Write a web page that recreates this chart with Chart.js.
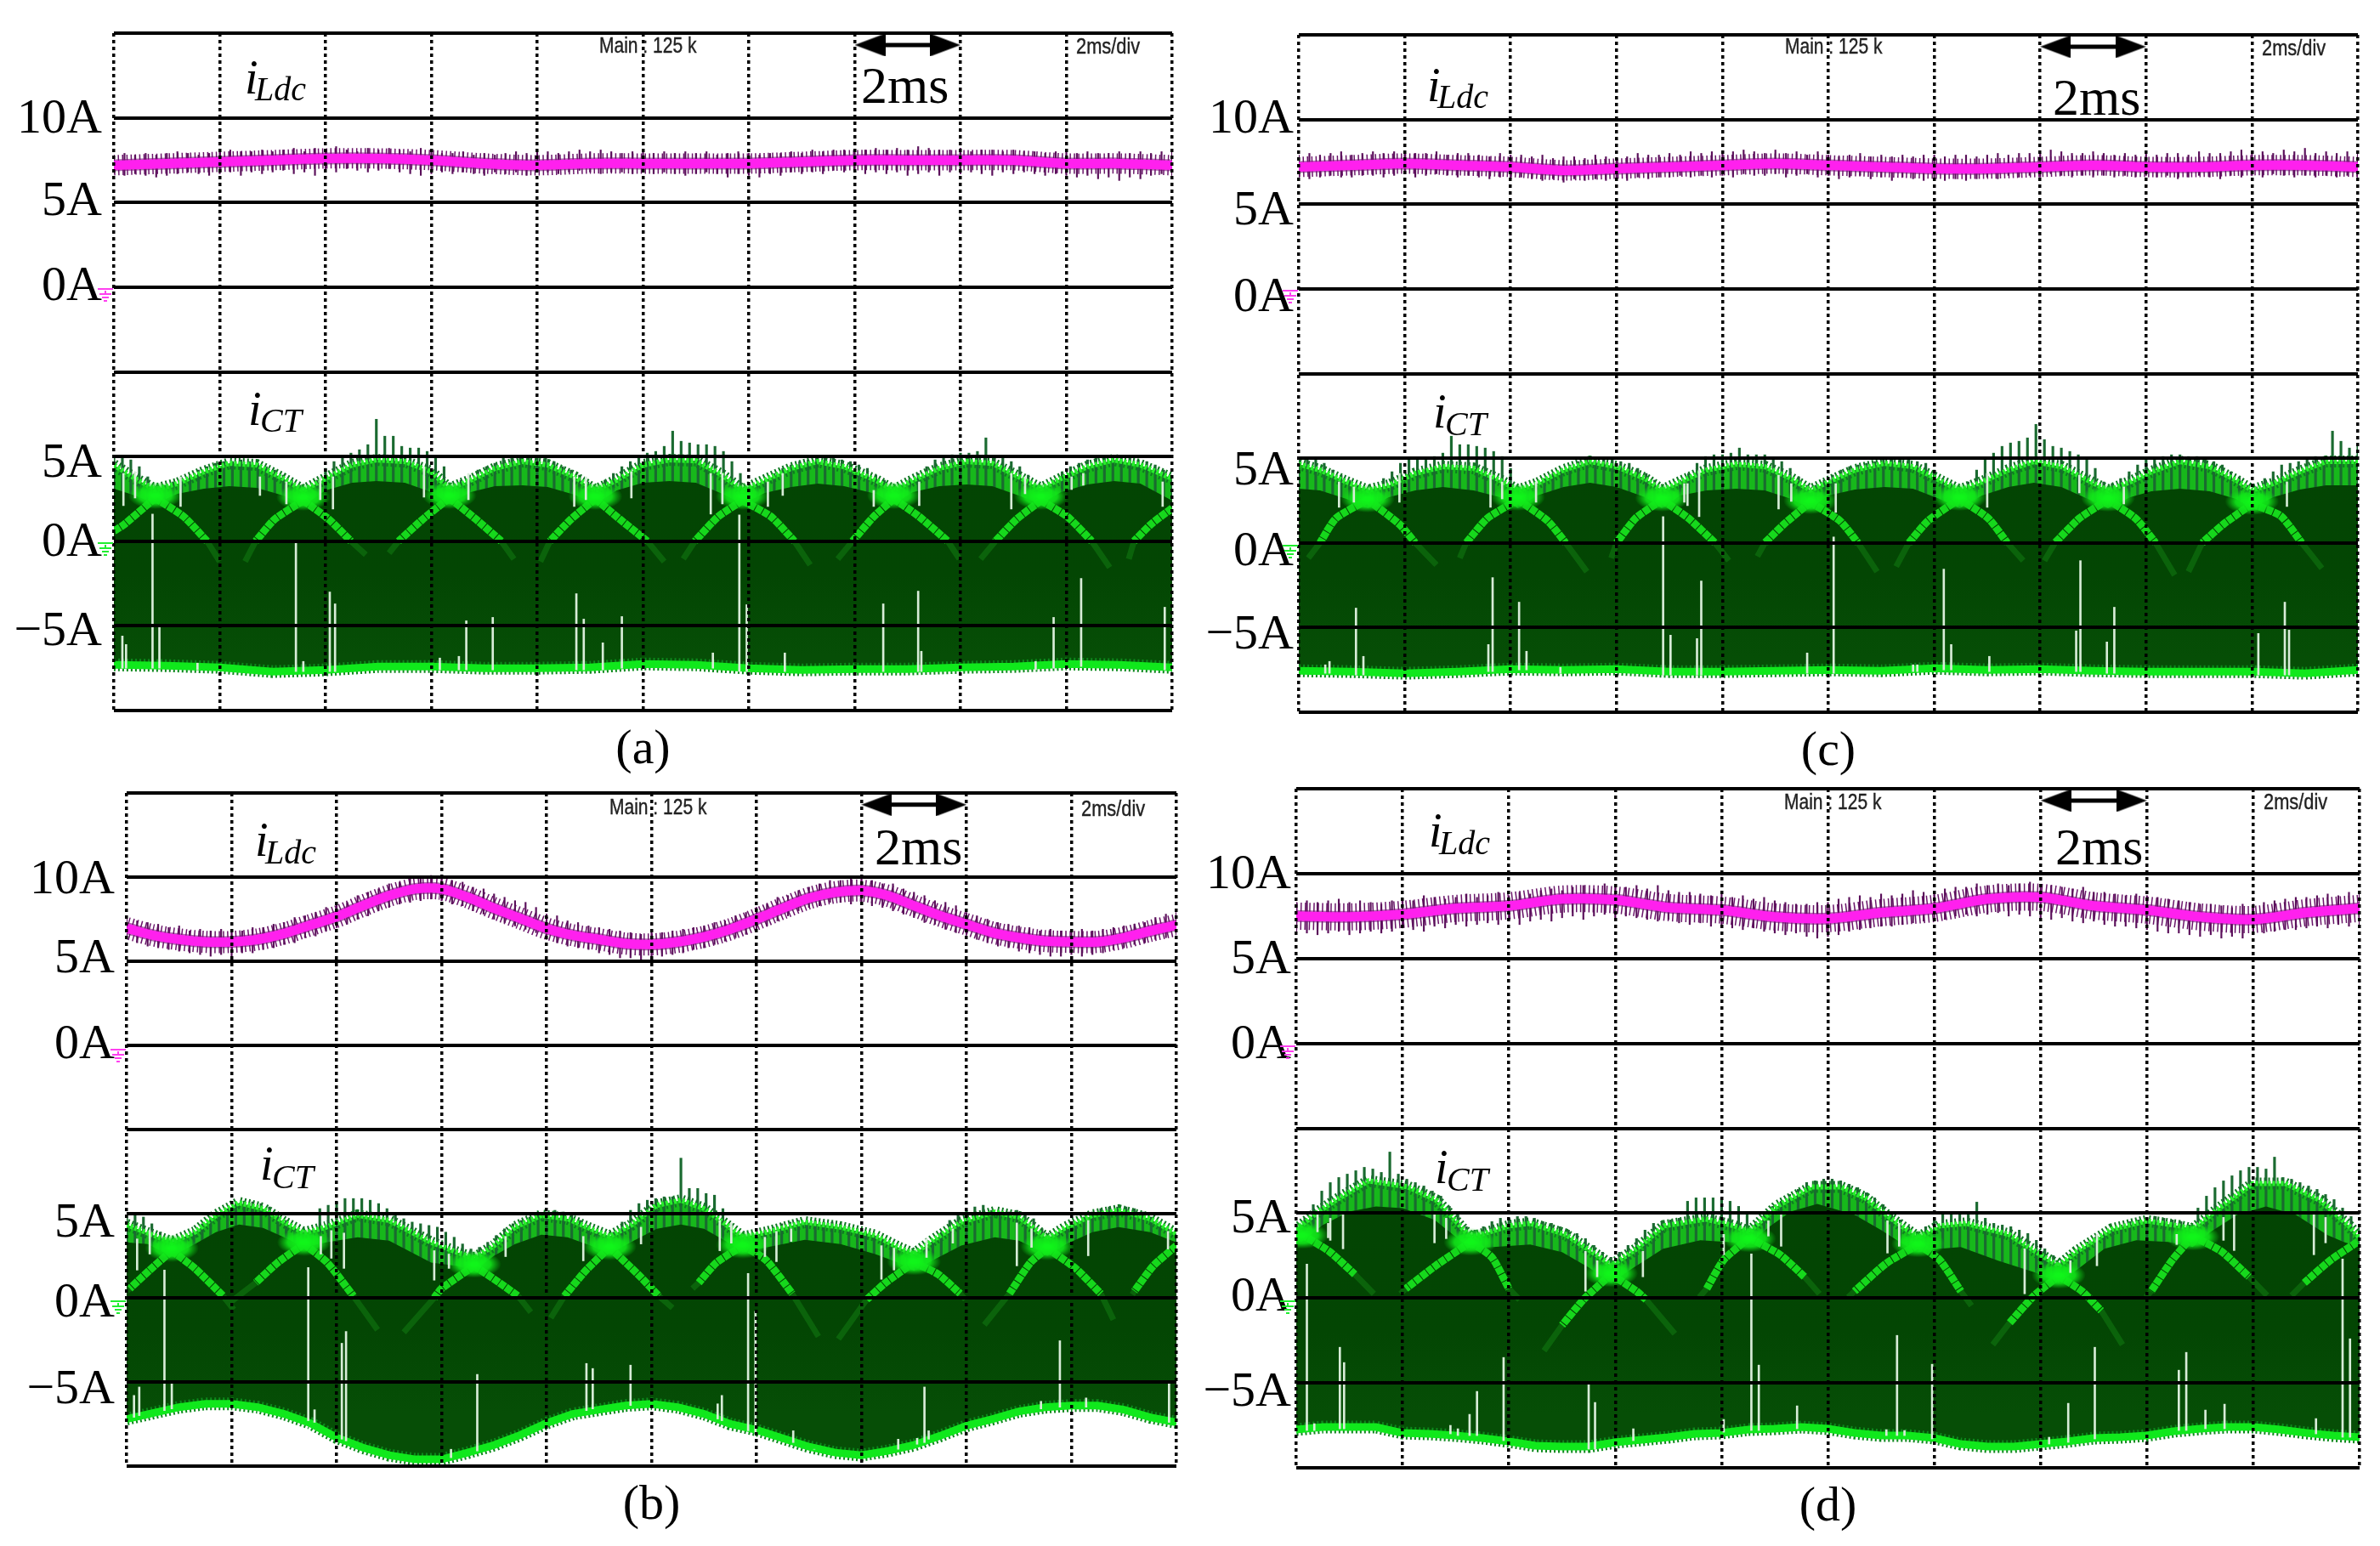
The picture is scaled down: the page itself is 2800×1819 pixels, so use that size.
<!DOCTYPE html>
<html>
<head>
<meta charset="utf-8">
<title>Inductor and capacitor current waveforms</title>
<style>
  html, body { margin: 0; padding: 0; background: #fff; }
  #page { position: relative; width: 2800px; height: 1819px; overflow: hidden; background: #fff; }
  .box { position: absolute; }
  .txt { position: absolute; white-space: pre; line-height: 1; color: #000; }
  .bar { position: absolute; }
</style>
<script src="https://cdn.jsdelivr.net/npm/chart.js@4/dist/chart.umd.js"></script>
</head>
<body>
<div id="page"></div>
<script>
// axis labels, top line to bottom line of each scope picture
var tickLabels = ['', '10A', '5A', '0A', '', '5A', '0A', '\u22125A', ''];

// iLdc centre trace, evenly spaced over the 10 divisions
var aLdc = [7.2,7.3,7.4,7.5,7.6,7.6,7.5,7.3,7.2,7.3,7.3,7.3,7.3,7.4,7.5,7.5,7.5,7.5,7.3,7.3,7.2];
var cLdc = [7.2,7.3,7.4,7.3,7.2,7.0,7.1,7.2,7.3,7.4,7.3,7.2,7.1,7.1,7.2,7.3,7.2,7.2,7.3,7.3,7.2];
var bLdc = [6.97,6.55,6.3,6.15,6.15,6.3,6.65,7.15,7.65,8.3,8.9,9.3,9.3,8.8,8.15,7.55,6.95,6.55,6.3,6.05,6,6.15,6.45,6.9,7.5,8.15,8.75,9.1,9.2,8.9,8.3,7.7,7.2,6.7,6.4,6.2,6.15,6.15,6.4,6.8,7.15];
var dLdc = [7.5,7.45,7.6,7.95,8.1,8.5,8.45,8.0,7.85,7.45,7.35,7.7,7.95,8.5,8.6,8.1,7.85,7.45,7.3,7.7,7.95];

// iLdc switching noise, upper and lower ends
var aLdcHi = [7.8,7.9,7.8,7.9,7.8,7.9,8.0,7.9,7.8,7.9,8.0,8.1,8.0,8.0,8.1,8.0,8.1,8.2,8.0,8.2,8.1,8.3,8.1,8.0,8.2,8.1,8.2,8.1,8.0,8.2,8.1,7.9,7.9,8.0,7.8,7.9,7.8,7.9,8.0,7.9,8.1,8.0,7.9,8.0,8.1,8.0,8.1,8.0,7.9,8.0,8.1,7.9,8.0,7.9,8.0,7.9,8.0,7.8,7.9,8.0,7.9,7.8,7.9,7.9,8.0,7.9,8.1,8.0,8.1,8.1,8.0,8.1,8.2,8.1,8.2,8.1,8.3,8.2,8.1,8.1,8.2,8.0,8.1,8.1,8.0,8.1,8.0,8.0,7.9,8.0,8.0,7.9,8.0,7.9,7.9,8.0,7.9,8.0,7.9,8.0,8.0];
var aLdcLo = [6.7,6.6,6.7,6.6,6.5,6.6,6.7,6.8,6.7,6.6,6.7,6.8,6.6,6.8,6.7,6.8,6.9,6.7,6.8,6.6,6.9,6.8,7.0,6.9,6.8,6.9,7.0,6.8,6.7,6.6,6.7,6.8,6.7,6.8,6.7,6.6,6.8,6.7,6.8,6.6,6.9,6.8,6.7,6.8,6.9,6.8,6.7,6.8,6.8,6.7,6.8,6.7,6.8,6.7,6.6,6.7,6.8,6.7,6.5,6.7,6.6,6.5,6.7,6.6,6.8,6.7,6.8,6.7,6.9,6.8,6.8,6.7,6.8,6.7,6.8,6.6,6.7,6.8,6.6,6.8,6.7,6.8,6.7,6.6,6.8,6.7,6.8,6.7,6.6,6.7,6.6,6.5,6.6,6.4,6.5,6.3,6.5,6.4,6.6,6.7,6.6];
var cLdcHi = [7.9,8.0,7.9,8.0,8.1,7.9,8.0,8.1,8.0,8.1,8.1,8.0,8.0,8.1,7.9,8.0,8.0,7.9,7.8,8.0,7.9,7.9,7.8,7.9,7.7,7.8,7.8,7.7,7.9,7.8,7.7,7.8,8.0,7.9,7.9,8.0,7.9,8.1,8.0,8.1,8.0,8.1,8.2,8.1,8.0,8.2,8.0,8.1,7.9,8.1,7.9,7.8,7.9,8.0,7.8,7.9,7.8,7.9,7.8,7.9,7.9,7.8,7.9,7.9,7.8,7.9,8.0,7.9,8.0,8.0,8.0,8.2,8.1,8.0,8.0,8.1,8.0,7.9,8.0,7.9,8.0,7.9,8.0,8.0,7.9,8.1,8.0,8.0,8.1,8.2,8.0,8.1,8.0,8.2,8.1,8.3,8.0,8.1,8.0,8.1,8.0];
var cLdcLo = [6.6,6.5,6.6,6.7,6.6,6.6,6.7,6.7,6.6,6.7,6.8,6.6,6.7,6.8,6.7,6.6,6.7,6.6,6.5,6.6,6.5,6.6,6.5,6.4,6.5,6.3,6.5,6.4,6.5,6.4,6.5,6.4,6.6,6.5,6.6,6.6,6.7,6.6,6.7,6.6,6.7,6.6,6.8,6.7,6.7,6.8,6.6,6.7,6.8,6.6,6.7,6.5,6.6,6.7,6.5,6.6,6.4,6.6,6.5,6.4,6.5,6.4,6.5,6.4,6.5,6.6,6.5,6.7,6.6,6.7,6.6,6.8,6.7,6.6,6.7,6.6,6.7,6.6,6.7,6.6,6.7,6.6,6.7,6.5,6.6,6.7,6.6,6.5,6.7,6.6,6.7,6.6,6.8,6.7,6.6,6.7,6.6,6.7,6.6,6.7,6.6];
var bLdcHi = [7.7,7.4,7.3,7.2,7.0,7.1,6.8,6.9,6.8,6.9,6.9,6.8,7.0,7.0,7.2,7.3,7.6,7.7,7.9,8.2,8.4,8.5,8.9,9.1,9.3,9.6,9.7,9.9,9.9,10.1,10.0,9.8,9.7,9.4,9.3,9.0,8.8,8.6,8.5,8.2,7.8,7.7,7.4,7.3,7.1,7.0,6.9,6.8,6.7,6.6,6.7,6.7,6.8,6.9,7.0,7.1,7.3,7.4,7.7,7.9,8.2,8.4,8.8,8.9,9.2,9.4,9.6,9.8,9.8,9.9,9.9,9.8,9.6,9.6,9.3,9.1,8.9,8.6,8.5,8.3,7.9,7.7,7.5,7.3,7.2,7.1,7.0,6.8,6.9,6.8,6.8,6.9,6.8,6.9,7.0,7.1,7.2,7.3,7.6,7.8,7.9];
var bLdcLo = [6.3,6.1,5.9,5.8,5.7,5.6,5.5,5.4,5.3,5.4,5.3,5.5,5.5,5.7,5.8,6.0,6.1,6.4,6.5,6.8,7.0,7.2,7.5,7.7,8.0,8.2,8.4,8.5,8.6,8.7,8.6,8.4,8.3,8.0,7.8,7.5,7.3,7.1,6.9,6.7,6.3,6.1,5.9,5.8,5.7,5.5,5.4,5.2,5.2,5.0,5.1,5.3,5.4,5.5,5.7,5.8,6.0,6.2,6.4,6.6,6.9,7.1,7.4,7.7,8.0,8.2,8.3,8.5,8.5,8.4,8.5,8.3,8.2,8.0,7.8,7.6,7.3,7.2,6.9,6.7,6.6,6.3,6.1,5.9,5.8,5.6,5.5,5.4,5.3,5.3,5.4,5.3,5.4,5.5,5.7,5.8,6.0,6.1,6.3,6.4,6.6];
var dLdcHi = [8.3,8.4,8.3,8.4,8.5,8.3,8.4,8.3,8.2,8.4,8.5,8.4,8.7,8.6,8.5,8.6,8.8,8.6,8.7,8.9,8.7,8.9,8.8,9.0,9.1,9.0,9.2,9.3,9.1,9.4,9.2,9.2,9.3,9.1,9.3,9.0,8.9,8.9,8.8,8.7,8.8,8.6,8.7,8.5,8.6,8.4,8.3,8.2,8.2,8.3,8.3,8.5,8.6,8.7,8.6,8.8,8.7,8.8,9.0,8.9,8.9,9.1,9.2,9.2,9.4,9.3,9.4,9.3,9.4,9.5,9.3,9.3,9.2,9.1,9.2,8.9,8.9,8.8,8.7,8.8,8.7,8.6,8.5,8.4,8.3,8.2,8.2,8.1,8.0,8.2,8.2,8.3,8.4,8.5,8.6,8.6,8.7,8.8,8.7,8.9,8.8];
var dLdcLo = [6.6,6.5,6.4,6.5,6.6,6.4,6.5,6.6,6.5,6.6,6.8,6.7,6.6,6.9,6.8,7.0,6.9,7.0,7.1,7.0,7.2,7.0,7.2,7.3,7.2,7.4,7.5,7.3,7.5,7.6,7.4,7.5,7.4,7.3,7.2,7.3,7.1,7.0,7.1,6.9,6.9,6.8,6.7,6.8,6.6,6.5,6.4,6.5,6.3,6.2,6.3,6.4,6.6,6.7,6.8,6.9,6.9,7.0,7.1,7.2,7.2,7.3,7.5,7.6,7.5,7.6,7.7,7.5,7.6,7.5,7.4,7.3,7.4,7.2,7.1,7.2,7.0,6.9,6.9,6.8,6.7,6.6,6.5,6.5,6.4,6.3,6.4,6.2,6.3,6.2,6.4,6.5,6.6,6.7,6.7,6.8,6.9,6.8,7.0,6.9,7.0];

// iCT spike tops, evenly spaced
var aTop = [4.9,5.0,4.8,4.4,3.8,3.2,3.3,3.5,3.7,3.9,4.2,4.4,4.6,4.7,4.7,4.8,4.7,4.6,4.4,4.2,3.9,3.6,3.3,3.2,3.6,4.3,4.7,5.0,5.2,5.4,5.7,7.2,6.2,6.2,5.6,5.5,5.5,5.3,4.9,4.4,3.2,3.6,3.9,4.2,4.4,4.6,4.9,5.0,5.0,5.0,4.9,4.9,4.7,4.4,4.2,3.9,3.5,3.2,3.6,4.0,4.4,4.7,5.0,5.2,5.3,5.6,6.5,5.9,5.8,5.7,5.7,5.6,5.3,4.7,4.0,3.2,3.4,3.7,4.0,4.3,4.5,4.7,4.8,4.9,4.9,4.9,4.8,4.7,4.5,4.3,3.9,3.6,3.2,3.3,3.7,4.0,4.4,4.8,4.9,5.1,5.2,5.2,5.3,6.1,5.0,4.9,4.7,4.4,3.9,3.3,3.2,3.6,4.1,4.4,4.6,4.8,4.9,4.9,5.0,4.9,4.9,4.8,4.7,4.5,4.2,3.9];
var cTop = [4.9,5.0,4.9,4.7,4.3,4.0,3.7,3.4,3.2,3.3,3.8,4.2,4.7,4.9,5.0,5.0,5.1,5.3,6.3,5.8,5.8,5.7,5.6,5.4,5.1,4.4,3.3,3.2,3.5,3.8,4.1,4.4,4.6,4.8,4.9,4.9,4.9,4.9,4.8,4.7,4.4,4.1,3.7,3.3,3.2,3.7,4.1,4.7,5.1,5.2,5.2,5.3,5.6,5.2,5.2,5.2,5.0,4.8,4.4,3.9,3.4,3.4,3.7,4.0,4.3,4.5,4.6,4.7,4.8,4.9,5.0,5.0,4.9,4.8,4.7,4.3,3.8,3.5,3.2,3.6,4.3,5.0,5.3,5.7,5.9,6.0,6.2,7.0,6.1,5.7,5.6,5.4,5.2,5.0,4.4,3.6,3.5,3.8,4.2,4.6,4.9,5.0,5.1,5.2,5.2,5.1,5.1,5.0,4.8,4.6,4.2,3.9,3.4,3.3,3.8,4.2,4.6,4.7,4.8,4.9,5.1,5.1,6.6,6.0,5.6,5.8];
var bTop = [4.9,4.9,4.8,4.4,3.9,3.4,3.3,3.6,4.0,4.4,4.7,5.0,5.3,5.6,5.75,5.7,5.6,5.4,5.0,4.6,4.2,3.9,4.0,5.3,5.5,5.7,5.9,5.9,5.9,5.8,5.6,5.3,4.9,4.7,4.5,4.4,4.3,4.2,3.9,3.6,3.2,2.9,3.0,3.3,3.7,4.1,4.4,4.6,4.8,5.0,5.1,5.2,5.1,4.9,4.6,4.3,4.0,3.7,3.9,4.5,5.2,5.6,5.8,5.9,6.0,6.0,8.3,6.5,6.5,6.2,6.1,5.3,4.4,3.7,3.6,3.8,4.0,4.2,4.4,4.5,4.6,4.6,4.6,4.5,4.5,4.4,4.2,4.1,3.9,3.7,3.5,3.2,2.9,2.7,2.6,2.9,3.3,3.9,4.6,4.9,5.2,5.4,5.5,5.2,5.1,5.1,5.2,5.0,4.7,4.1,3.6,3.9,4.2,4.5,4.8,5.1,5.3,5.4,5.4,5.4,5.3,5.1,4.8,4.5,4.1,3.8];
var dTop = [4.1,4.7,5.5,6.3,6.8,7.1,7.3,7.5,7.7,7.6,7.4,8.6,7.3,7.0,6.8,6.6,6.3,6.0,5.4,4.9,4.2,4.0,4.2,4.5,4.7,4.7,4.8,4.8,4.7,4.5,4.4,4.2,4.0,3.8,3.5,3.1,2.7,2.4,2.7,3.1,3.5,4.0,4.4,4.5,4.6,4.7,5.7,5.9,5.9,5.9,5.9,5.7,5.4,4.9,4.5,5.0,5.4,5.7,6.1,6.4,6.8,6.9,7.0,7.0,6.9,6.7,6.5,6.2,5.9,5.5,5.0,4.6,4.2,3.9,4.2,4.7,5.0,5.1,5.0,4.9,5.65,4.7,4.4,4.3,4.2,4.0,3.8,3.4,2.9,2.5,2.2,2.6,3.0,3.3,3.6,3.9,4.1,4.3,4.5,4.6,4.7,4.8,4.7,4.6,4.5,4.3,5.3,6.0,6.5,6.9,7.2,7.5,7.7,7.7,7.6,8.3,7.1,7.0,6.8,6.6,6.4,6.1,5.8,5.3,4.8,4.3];

// iCT dense dark body, upper outline
var aDarkX = [0,.2,.39,.6,.85,1.09,1.35,1.6,1.79,2.0,2.25,2.48,2.75,3.0,3.17,3.37,3.6,3.86,4.1,4.35,4.55,4.75,5.0,5.25,5.5,5.75,5.94,6.15,6.4,6.65,6.9,7.2,7.37,7.55,7.8,8.06,8.3,8.55,8.76,8.95,9.2,9.45,9.7,10];
var aDark = [3.1,2.7,2.2,2.8,3.1,3.25,3.15,2.7,2.1,3.0,3.45,3.55,3.45,2.9,2.2,2.9,3.25,3.3,3.2,2.75,2.2,3.0,3.45,3.55,3.45,2.8,2.2,2.85,3.2,3.4,3.25,2.8,2.2,2.9,3.25,3.35,3.25,2.7,2.2,2.9,3.35,3.55,3.4,2.4];
var aBand = [4.5,3.7,3.05,3.4,4.1,4.6,4.5,3.7,3.0,3.7,4.5,4.8,4.7,4.1,3.1,3.6,4.3,4.7,4.5,3.8,3.0,3.6,4.5,4.8,4.75,3.9,3.0,3.6,4.3,4.7,4.4,3.6,3.0,3.6,4.3,4.7,4.6,3.8,3.1,3.7,4.4,4.8,4.5,3.7];
var cDarkX = [0,.2,.45,.65,.85,1.1,1.36,1.65,1.9,2.07,2.25,2.5,2.75,3.0,3.27,3.43,3.6,3.85,4.13,4.4,4.65,4.83,5.0,5.25,5.53,5.8,6.05,6.24,6.45,6.7,6.94,7.2,7.45,7.64,7.85,8.05,8.32,8.6,8.85,9.0,9.2,9.45,9.7,10];
var cDark = [3.2,3.1,2.6,2.05,2.7,3.1,3.3,3.1,2.7,2.05,2.8,3.3,3.55,3.3,2.7,2.05,2.8,3.1,3.2,3.1,2.6,2.05,2.8,3.15,3.3,3.2,2.6,2.05,2.8,3.3,3.55,3.3,2.6,2.05,2.7,3.05,3.2,3.05,2.6,2.05,2.7,3.15,3.4,3.4];
var cBand = [4.65,4.3,3.6,3.1,3.4,4.1,4.5,4.4,3.7,3.1,3.5,4.3,4.8,4.5,3.8,3.1,3.6,4.3,4.65,4.5,3.8,3.1,3.6,4.3,4.7,4.5,3.7,3.1,3.6,4.3,4.8,4.5,3.7,3.1,3.6,4.2,4.8,4.5,3.7,3.1,3.5,4.2,4.8,4.8];
var bDarkX = [0,.2,.43,.65,.85,1.07,1.3,1.5,1.69,1.9,2.2,2.5,2.9,3.15,3.31,3.5,3.7,3.95,4.2,4.42,4.6,4.8,5.05,5.28,5.5,5.7,5.87,6.1,6.46,6.8,7.13,7.35,7.5,7.7,7.95,8.27,8.5,8.65,8.77,8.95,9.2,9.45,9.75,10];
var bDark = [3.3,3.2,2.45,3.2,3.9,4.35,4.15,3.6,3.0,3.3,3.6,3.4,2.1,1.9,1.6,2.5,3.2,3.75,3.6,3.1,2.6,3.3,4.1,4.35,4.1,3.4,2.7,3.0,3.45,3.2,2.6,2.1,1.6,2.3,3.1,3.6,3.4,2.95,2.5,3.2,3.9,4.2,3.9,3.3];
var bBand = [4.35,3.85,3.3,3.9,4.9,5.65,5.3,4.5,3.85,4.2,4.9,4.6,3.3,2.7,2.35,3.1,4.2,4.9,4.7,4.1,3.65,4.3,5.5,5.8,5.3,4.4,3.6,3.9,4.5,4.2,3.7,3.0,2.6,3.5,4.5,5.1,4.8,4.1,3.5,4.2,4.9,5.2,4.7,3.8];
var dDarkX = [0,.05,.25,.5,.75,1.0,1.3,1.5,1.64,1.85,2.2,2.5,2.75,2.96,3.15,3.45,3.8,4.05,4.26,4.45,4.65,4.9,5.25,5.5,5.7,5.85,6.05,6.25,6.6,6.95,7.17,7.35,7.6,7.9,8.2,8.43,8.6,8.85,9.12,9.4,9.7,9.85,10];
var dDark = [3.4,3.3,4.3,5.1,5.4,5.3,4.6,3.6,2.9,3.0,3.15,2.7,1.8,.9,1.7,2.9,3.4,3.3,3.2,4.2,5.1,5.55,4.9,4.0,3.2,2.7,2.9,3.0,2.2,1.5,.9,1.7,2.9,3.4,3.3,3.0,3.9,4.9,5.4,4.9,3.7,3.3,3.0];
var dBandX = [0,.2,.38,.68,1.05,1.32,1.52,1.64,2,2.2,2.53,2.86,2.96,3.2,3.46,3.85,4.12,4.26,4.52,4.85,5.12,5.35,5.58,5.85,6.05,6.3,6.7,7,7.17,7.34,7.67,8,8.3,8.43,8.67,9,9.3,9.63,9.9,10];
var dBand = [4.05,5.05,5.8,6.9,6.55,5.75,4.4,3.55,4.25,4.4,3.75,2.4,1.9,2.9,4.25,4.65,4.25,3.9,5.4,6.55,6.55,5.9,4.75,3.55,4.25,4.4,3.75,2.55,1.9,2.75,4.05,4.55,4.25,4.05,5.25,6.75,6.75,5.75,4.25,3.55];

// iCT lower edge, evenly spaced
var aEdge = [-7.3,-7.35,-7.45,-7.7,-7.6,-7.4,-7.4,-7.5,-7.5,-7.45,-7.25,-7.3,-7.5,-7.6,-7.55,-7.55,-7.45,-7.4,-7.25,-7.3,-7.45];
var cEdge = [-7.55,-7.6,-7.7,-7.6,-7.45,-7.5,-7.45,-7.6,-7.6,-7.55,-7.5,-7.55,-7.4,-7.5,-7.45,-7.55,-7.6,-7.6,-7.6,-7.7,-7.5];
var bEdge = [-7.2,-6.85,-6.5,-6.3,-6.3,-6.5,-6.9,-7.45,-8.3,-8.9,-9.35,-9.6,-9.6,-9.2,-8.75,-8.15,-7.45,-6.9,-6.65,-6.4,-6.3,-6.5,-6.9,-7.5,-7.85,-8.35,-8.85,-9.2,-9.35,-9.1,-8.75,-8.2,-7.6,-7.2,-6.75,-6.5,-6.4,-6.4,-6.65,-7.1,-7.4];
var dEdge = [-7.75,-7.6,-7.6,-7.6,-7.95,-8,-8.1,-8.25,-8.45,-8.7,-8.75,-8.75,-8.5,-8.35,-8.2,-8,-7.95,-7.75,-7.7,-7.6,-7.7,-7.95,-8.1,-8.1,-8.25,-8.6,-8.75,-8.75,-8.6,-8.45,-8.25,-8.2,-8.1,-7.85,-7.7,-7.6,-7.6,-7.75,-7.95,-8.1,-8.2];

// arc legs: cusp, mid, zero crossing, faded end (x,y pairs)
var aLegs = [[.39,2.55,.66,1.45,.88,0,1,-1.2],[.39,2.55,.09,.95,0,.6,0,.6],[1.79,2.4,1.52,1.3,1.34,0,1.24,-1.2],[1.79,2.4,2.03,1.3,2.24,0,2.38,-.8],[3.17,2.55,2.92,1.3,2.69,0,2.6,-.7],[3.17,2.55,3.42,1.3,3.66,0,3.78,-1.05],[4.55,2.5,4.32,1.3,4.12,0,4.03,-1.2],[4.55,2.5,4.78,1.3,5.04,0,5.2,-1.2],[5.94,2.4,5.71,1.45,5.49,0,5.38,-1.05],[5.94,2.4,6.21,1.45,6.43,0,6.58,-1.4],[7.37,2.5,7.18,1.45,6.98,0,6.84,-1.05],[7.37,2.5,7.61,1.45,7.88,0,7.99,-1.05],[8.76,2.4,8.53,1.3,8.33,0,8.19,-1.05],[8.76,2.4,9.01,1.45,9.24,0,9.41,-1.55],[10,1.95,9.8,1,9.64,0,9.59,-1.05]];
var cLegs = [[.65,2.55,.35,1.45,.2,0,.09,-.9],[.65,2.55,.95,1.1,1.1,0,1.3,-1.3],[2.07,2.55,1.78,1.45,1.58,0,1.52,-.9],[2.07,2.55,2.35,1.3,2.52,0,2.72,-1.7],[3.43,2.55,3.18,1.45,3,0,2.95,-.9],[3.43,2.55,3.68,1.45,3.93,0,4.06,-1.05],[4.83,2.4,4.58,1.1,4.4,0,4.33,-.8],[4.83,2.4,5.11,1.3,5.28,0,5.46,-1.7],[6.24,2.6,5.94,1.3,5.76,0,5.64,-1.4],[6.24,2.6,6.51,1.45,6.69,0,6.84,-1.05],[7.64,2.55,7.37,1.45,7.14,0,7.04,-1.05],[7.64,2.55,7.9,1.45,8.09,0,8.27,-1.9],[9,2.3,8.73,1.1,8.53,0,8.4,-1.7],[9,2.3,9.27,1.6,9.47,0,9.66,-1.5]];
var bLegs = [[.43,2.8,.22,1.65,.03,.55,0,.4],[.43,2.8,.65,1.75,.92,.1,1.02,-.7],[1.69,3.2,1.44,2.1,1.23,.9,.98,-.3],[1.69,3.2,1.91,2.1,2.16,.1,2.39,-1.9],[3.31,1.9,3,.55,2.93,0,2.64,-2.05],[3.31,1.9,3.55,.9,3.73,.1,3.85,-.85],[4.6,3,4.37,1.6,4.17,.1,4.04,-1.2],[4.6,3,4.87,1.4,5.07,.1,5.2,-.6],[5.87,3.1,5.62,2.1,5.45,.9,5.39,.55],[5.87,3.1,6.09,2.25,6.34,.25,6.59,-2.3],[7.5,2.1,7.23,.9,7.05,-.1,6.78,-2.45],[7.5,2.1,7.73,1.4,7.94,.25,7.99,-.1],[8.77,2.95,8.61,2.1,8.41,.25,8.17,-1.6],[8.77,2.95,9.04,1.75,9.28,.25,9.4,-1.3],[10,3.1,9.78,1.9,9.6,.4,9.58,.2]];
var dLegs = [[.05,3.75,.31,2.75,.55,1.4,.73,.25],[1.64,3.3,1.31,1.9,1.03,.55,.98,.25],[1.64,3.3,1.84,2.4,2,.55,2.1,-.1],[2.96,1.4,2.7,-.1,2.5,-1.6,2.33,-3.1],[2.96,1.4,3.2,.4,3.29,-.1,3.56,-2.1],[4.26,3.55,4.02,2.25,3.86,.55,3.79,.05],[4.26,3.55,4.55,2.55,4.78,1.25,4.92,.25],[5.85,3.15,5.55,2.05,5.25,.4,5.19,.05],[5.85,3.15,6.05,2.25,6.25,.4,6.35,-.45],[7.17,1.3,6.94,.15,6.71,-1.45,6.55,-2.75],[7.17,1.3,7.39,.4,7.57,-.75,7.77,-2.75],[8.43,3.65,8.24,2.25,8.04,.4,7.99,.05],[8.43,3.65,8.7,2.75,8.96,1.25,9.13,.15],[9.98,3.3,9.73,2.25,9.48,.9,9.36,.15]];

// bright crossing spots
var aCuspX = [.39,1.79,3.17,4.55,5.94,7.37,8.76];
var aCuspY = [2.7,2.6,2.7,2.65,2.65,2.7,2.65];
var cCuspX = [.65,2.07,3.43,4.83,6.24,7.64,9];
var cCuspY = [2.6,2.7,2.65,2.5,2.7,2.65,2.45];
var bCuspX = [.43,1.69,3.31,4.6,5.87,7.5,8.77];
var bCuspY = [2.95,3.3,2.0,3.05,3.15,2.15,3.05];
var dCuspX = [.05,1.64,2.96,4.26,5.85,7.17,8.43];
var dCuspY = [3.7,3.3,1.45,3.5,3.2,1.35,3.6];

// pale single spikes: x, low end, high end
var aWhite = [[.08,-7.5,-5.6],[.115,-7.5,-6.1],[.365,-7.5,1.6],[.43,-7.5,-5.1],[.79,-7.6,-7.2],[1.72,-7.7,-.1],[1.79,-7.7,-7.1],[2.04,-7.7,-3],[2.09,-7.7,-3.7],[3.08,-7.6,-6.9],[3.26,-7.6,-6.8],[3.33,-7.6,-4.7],[3.58,-7.6,-4.5],[4.37,-7.6,-3.1],[4.44,-7.6,-4.6],[4.62,-7.6,-6],[4.8,-7.5,-4.45],[5.66,-7.5,-6.6],[5.91,-7.7,1.55],[5.98,-7.7,-3.75],[6.34,-7.7,-6.6],[7.27,-7.7,-3.7],[7.6,-7.7,-2.95],[7.63,-7.7,-6.5],[8.71,-7.6,-7.1],[8.88,-7.5,-4.5],[9.14,-7.4,-2.2],[9.93,-7.6,-3.9],[.09,2.1,4],[.2,2.55,4.1],[.63,2.05,3.8],[1.38,2.7,3.8],[1.63,2.2,3.5],[1.95,2.45,3.8],[2.07,1.9,3.8],[2.93,2.6,4.4],[3.35,2.45,4],[4.35,2.05,3.8],[4.46,2.45,3.8],[4.89,2.55,4.1],[5.64,1.6,4],[5.75,2.2,4],[6.18,2.05,3.5],[6.32,2.7,4],[7.18,2.05,3],[7.61,2.1,3.5],[8.48,1.9,4],[8.61,2.8,3.8],[9.05,3.05,3.8],[9.16,3.3,4],[9.91,2.05,3.5]];
var cWhite = [[.25,-7.7,-7.2],[.29,-7.7,-7],[.54,-7.8,-3.85],[.61,-7.8,-6.7],[1.79,-7.6,-6],[1.83,-7.6,-2.05],[2.08,-7.5,-3.5],[2.15,-7.5,-6.4],[2.47,-7.7,-7.35],[3.44,-7.8,1.55],[3.51,-7.8,-5.45],[3.76,-7.8,-5.65],[3.8,-7.8,-2.25],[4.8,-7.7,-6.5],[5.05,-7.7,.35],[5.8,-7.6,-7.2],[5.84,-7.6,-7.2],[6.09,-7.5,-1.55],[6.16,-7.5,-6],[6.52,-7.6,-6.7],[7.34,-7.6,-5.2],[7.38,-7.6,-1.05],[7.63,-7.7,-5.85],[7.7,-7.7,-3.8],[9.06,-7.8,-5.35],[9.31,-7.8,-3.5],[9.35,-7.8,-5.15],[.38,2.1,3.6],[.52,2.4,3.3],[.95,2.4,4.1],[1.81,2.1,4],[1.92,2.6,3.6],[2.24,2.4,3.6],[3.64,2.4,3.5],[3.67,2.2,3.5],[3.78,1.55,4.3],[4.53,2,4],[4.65,2.45,3.5],[5.07,1.8,3.5],[6.5,2.1,4.1],[7.37,2.95,4],[7.79,2.3,3.3],[9.33,2.15,3.6]];
var bWhite = [[.07,-7.1,-5.8],[.12,-7,-5.3],[.36,-6.7,1.65],[.43,-6.6,-5.1],[1.73,-7.3,1.8],[1.79,-7.4,-6.65],[2.05,-8.4,-2.7],[2.09,-8.5,-2],[3.09,-9.5,-9],[3.34,-9.1,-4.55],[4.38,-6.7,-3.9],[4.44,-6.6,-4.2],[4.8,-6.4,-4],[5.63,-7.2,-6.3],[5.67,-7.3,-5.8],[5.92,-7.9,1.45],[5.99,-8,-.8],[6.35,-8.6,-7.9],[6.55,-9,-9],[7.35,-9,-8.4],[7.53,-8.7,-8.35],[7.6,-8.6,-5.3],[7.64,-8.4,-7.9],[8.71,-6.6,-6.15],[8.89,-6.5,-2.55],[9.14,-6.5,-5.95],[9.93,-7.4,-5.1],[.1,1.65,3.5],[.22,2.6,4],[1.85,2.6,3.65],[1.95,2.35,4],[2.07,1.75,3.85],[2.93,1.05,2.8],[3.07,1.75,2.6],[3.61,2.45,3.65],[4.35,2.2,3.65],[4.9,3.2,4.2],[5.65,2.8,4.6],[5.76,3.25,4.45],[6.08,2.45,3.6],[6.19,2.15,3.95],[6.33,3.35,4.1],[7.19,1.1,3.1],[7.31,1.65,2.95],[7.62,2.4,3.5],[7.87,3.25,4.1],[8.48,1.9,4.45],[8.62,3,4.1],[9.16,2.5,4.6],[9.92,2.9,3.95]];
var dWhite = [[.1,-7.8,2],[.17,-7.8,-7.4],[.41,-7.7,-2.9],[.45,-7.7,-3.8],[1.45,-8,-7.5],[1.52,-8.1,-7.7],[1.63,-8.1,-6.85],[1.7,-8.1,-5.5],[1.95,-8.4,-3.5],[2.75,-8.9,-5.1],[2.81,-8.9,-6.15],[3.17,-8.4,-7.7],[4.02,-7.9,-7.15],[4.28,-7.8,2.6],[4.35,-7.8,-3.95],[4.71,-7.7,-6.35],[5.55,-8.1,-7.75],[5.65,-8.1,-2.2],[5.72,-8.1,-7.8],[5.98,-8.3,-3.9],[7.08,-8.6,-8.2],[7.26,-8.5,-6.2],[7.51,-8.3,-2.9],[8.3,-7.8,-4.25],[8.37,-7.8,-3.2],[8.55,-7.7,-6.6],[8.73,-7.7,-6.25],[9.59,-8,-7.1],[9.84,-8.2,2.3],[9.91,-8.2,-2.4],[.2,3.9,5],[.3,3.55,4.4],[.32,3.4,4.7],[.44,2.9,4.9],[1.3,3.25,4.9],[1.41,3.5,4.7],[2.72,.4,2.75],[2.83,1.25,2.2],[3.26,1.25,2.75],[4.02,2.55,3.75],[4.44,3.65,4.55],[4.56,3.05,4.9],[5.56,2.65,4.55],[5.67,3.05,4.4],[6.85,.25,2.9],[7.28,1.5,2.2],[7.53,1.9,3.75],[8.28,3.15,3.75],[8.72,3.4,4.75],[8.82,2.8,4.9],[9.57,2.55,4.9],[9.68,3.25,4.75]];

// the 2ms marker spans one division
var arrowX = [7.145, 7.855];
var arrowY = [14.3, 14.3];

var panelNames = ['(a)', '(b)', '(c)', '(d)'];

function evenly(values) {
  return values.map(function(v, i) { return { x: i * 10 / (values.length - 1), y: v }; });
}
function pairs(xs, ys) {
  return xs.map(function(x, i) { return { x: x, y: ys[i] }; });
}
function spikes(tops) {
  return tops.map(function(v, i) { return { x: i * 10 / (tops.length - 1), y: [0, v] }; });
}
function range(lo, hi) {
  return lo.map(function(v, i) { return { x: i * 10 / (lo.length - 1), y: [v, hi[i]] }; });
}
function legPath(legs, from, to) {
  var out = [];
  legs.forEach(function(leg) {
    for (var k = from; k <= to; k++) out.push({ x: leg[k * 2], y: leg[k * 2 + 1] });
    out.push({ x: leg[0], y: NaN });
  });
  return out;
}

function arrowHead() {
  var c = document.createElement('canvas');
  c.width = 36; c.height = 27;
  var g = c.getContext('2d');
  g.beginPath();
  g.moveTo(36, 13.5); g.lineTo(0, 0); g.lineTo(0, 27); g.closePath();
  g.fillStyle = '#000';
  g.fill();
  return c;
}
// soft wide spot where two arcs cross
function crossSpot() {
  var c = document.createElement('canvas');
  c.width = 64; c.height = 32;
  var g = c.getContext('2d');
  g.translate(32, 16);
  g.scale(2, 1);
  var r = g.createRadialGradient(0, 0, 2, 0, 0, 16);
  r.addColorStop(0, 'rgba(16,245,26,1)');
  r.addColorStop(0.55, 'rgba(18,230,26,0.9)');
  r.addColorStop(1, 'rgba(18,210,26,0)');
  g.fillStyle = r;
  g.beginPath();
  g.arc(0, 0, 16, 0, Math.PI * 2);
  g.fill();
  return c;
}

var head = arrowHead();
var spot = crossSpot();
var page = document.getElementById('page');

function bodyFill(ctx) {
  var a = ctx.chart.chartArea;
  if (!a) return '#034303';
  var g = ctx.chart.ctx.createLinearGradient(0, a.top, 0, a.bottom);
  g.addColorStop(0.5, '#034303');
  g.addColorStop(0.8, '#034603');
  g.addColorStop(0.92, '#064e06');
  return g;
}

function buildPanel(name, p) {
  var padL = 132, padT = 8, padR = 8, padB = 82;
  var box = document.createElement('div');
  box.className = 'box';
  box.style.left = (p.L - padL) + 'px';
  box.style.top = (p.T - padT) + 'px';
  box.style.width = (p.R - p.L + padL + padR) + 'px';
  box.style.height = (p.B - p.T + padT + padB) + 'px';
  var cv = document.createElement('canvas');
  box.appendChild(cv);
  page.appendChild(box);

  var line = { type: 'line', pointRadius: 0, tension: 0, clip: 0, spanGaps: false };
  function ln(o) { return Object.assign({}, line, o); }

  new Chart(cv, {
    type: 'line',
    data: {
      datasets: [
        ln({ order: 90, yAxisID: 'y', data: pairs(p.bandX, p.band), borderWidth: 0, fill: { value: -10 }, backgroundColor: '#17b81b' }),
        ln({ order: 85, yAxisID: 'y', data: pairs(p.bandX, p.band), borderColor: '#0f7a22', borderWidth: 14, borderDash: [2, 3] }),
        { type: 'bar', order: 80, yAxisID: 'y', data: spikes(p.top), backgroundColor: '#1a6a30', barThickness: 2.5, grouped: false, clip: 0 },
        ln({ order: 75, yAxisID: 'y', data: pairs(p.bandX, p.band), borderColor: '#28f02c', borderWidth: 6, borderDash: [3, 2] }),
        ln({ order: 70, yAxisID: 'y', data: pairs(p.darkX, p.dark), borderWidth: 0, fill: { value: -10 }, backgroundColor: bodyFill }),
        ln({ order: 60, yAxisID: 'y', data: legPath(p.legs, 2, 3), borderColor: 'rgba(30,170,30,0.3)', borderWidth: 7, tension: 0.2 }),
        ln({ order: 50, yAxisID: 'y', data: legPath(p.legs, 0, 2), borderColor: '#16d81c', borderWidth: 9, borderDash: [8, 1], tension: 0.2 }),
        ln({ order: 45, yAxisID: 'y', data: pairs(p.cuspX, p.cuspY), showLine: false, pointRadius: 16, pointStyle: spot, pointBorderWidth: 0 }),
        ln({ order: 40, yAxisID: 'y', data: evenly(p.edge), borderWidth: 0, fill: { value: -10 }, backgroundColor: '#fff' }),
        ln({ order: 38, yAxisID: 'y', data: evenly(p.edge), borderColor: '#0c8a1c', borderWidth: 15, borderDash: [2, 3] }),
        ln({ order: 37, yAxisID: 'y', data: evenly(p.edge), borderColor: '#10e81c', borderWidth: 9 }),
        { type: 'bar', order: 35, yAxisID: 'y', data: p.white.map(function(w) { return { x: w[0], y: [w[1], w[2]] }; }), backgroundColor: '#d8ecd8', barThickness: 2, grouped: false, clip: 0 },
        ln({ order: 22, yAxisID: 'yLdc', data: evenly(p.ldc), borderColor: '#6a156a', borderWidth: p.fuzz, borderDash: [1.5, 3.5], tension: 0.3 }),
        { type: 'bar', order: 20, yAxisID: 'yLdc', data: range(p.ldcLo, p.ldcHi), backgroundColor: '#5a0f5a', barThickness: 1.5, grouped: false, clip: 0 },
        ln({ order: 15, yAxisID: 'yLdc', data: evenly(p.ldc), borderColor: 'rgba(120,10,120,0.6)', borderWidth: 14, tension: 0.3 }),
        ln({ order: 10, yAxisID: 'yLdc', data: evenly(p.ldc), borderColor: '#ff20ee', borderWidth: 11, tension: 0.3 }),
        ln({ order: 5, yAxisID: 'yLdc', data: pairs(arrowX, arrowY), borderColor: '#000', borderWidth: 5, pointRadius: 18, pointStyle: head, pointRotation: [180, 0] })
      ]
    },
    options: {
      responsive: true,
      maintainAspectRatio: false,
      animation: false,
      layout: { autoPadding: false, padding: { top: padT, right: padR, left: 0, bottom: 0 } },
      plugins: { legend: { display: false }, tooltip: { enabled: false } },
      scales: {
        x: {
          type: 'linear', min: 0, max: 10, offset: false,
          grid: { color: '#000', lineWidth: 3.5, z: 1, drawTicks: false, offset: false },
          border: { display: false, dash: [4, 4] },
          ticks: { display: false, stepSize: 1 },
          title: { display: true, text: name, color: '#000', font: { family: 'Liberation Serif', size: 58 }, padding: { top: 0, bottom: 0 } },
          afterFit: function(s) { s.height = padB; s.paddingLeft = 0; s.paddingRight = 0; }
        },
        y: {
          type: 'linear', min: -10, max: 30, position: 'left',
          grid: { color: '#000', lineWidth: 4, z: 1, drawTicks: false },
          border: { display: false },
          ticks: {
            stepSize: 5, autoSkip: false, padding: p.tickPad, color: '#000',
            font: { family: 'Liberation Serif', size: 58 },
            callback: function(v, i, all) { return tickLabels[all.length - 1 - i]; }
          },
          afterFit: function(s) {
            s.width = padL; s.paddingTop = 0; s.paddingBottom = 0;
            // labels in the picture do not sit exactly on their lines
            if (!s._shifted) {
              s._shifted = true;
              var compute = s._computeLabelItems;
              s._computeLabelItems = function(area) {
                var items = compute.call(this, area);
                items.forEach(function(it, i) { it.options.translation[1] += p.shift[items.length - 1 - i] || 0; });
                return items;
              };
            }
          }
        },
        yLdc: { type: 'linear', min: -25, max: 15, display: false }
      }
    }
  });
}

var layout = {
  a: { L: 134, R: 1379, T: 39, B: 836, tickPad: 14, fuzz: 24, shift: [0,2,0,0,0,9,2,7,0], iLdc: [288, 110, 118], iCT: [292, 500, 508], ms: [1013, 121], main: [705, 62], div: [1266, 63], zero: [337, 636] },
  b: { L: 149, R: 1384, T: 933, B: 1725, tickPad: 14, fuzz: 26, shift: [0,4,-2,0,0,12,7,10,0], iLdc: [300, 1007, 1016], iCT: [306, 1388, 1398], ms: [1029, 1017], main: [717, 958], div: [1272, 960], zero: [1232, 1528] },
  c: { L: 1528, R: 2774, T: 41, B: 838, tickPad: 6, fuzz: 24, shift: [0,0,9,11,0,16,11,9,0], iLdc: [1679, 119, 127], iCT: [1686, 503, 512], ms: [2415, 135], main: [2100, 63], div: [2661, 65], zero: [339, 639] },
  d: { L: 1525, R: 2776, T: 928, B: 1727, tickPad: 6, fuzz: 32, shift: [0,2,2,2,0,7,0,12,0], iLdc: [1681, 996, 1005], iCT: [1688, 1392, 1401], ms: [2418, 1017], main: [2099, 952], div: [2663, 952], zero: [1228, 1528] }
};

buildPanel(panelNames[0], Object.assign(layout.a, { ldc: aLdc, ldcHi: aLdcHi, ldcLo: aLdcLo, top: aTop, darkX: aDarkX, dark: aDark, bandX: aDarkX, band: aBand, edge: aEdge, legs: aLegs, cuspX: aCuspX, cuspY: aCuspY, white: aWhite }));
buildPanel(panelNames[1], Object.assign(layout.b, { ldc: bLdc, ldcHi: bLdcHi, ldcLo: bLdcLo, top: bTop, darkX: bDarkX, dark: bDark, bandX: bDarkX, band: bBand, edge: bEdge, legs: bLegs, cuspX: bCuspX, cuspY: bCuspY, white: bWhite }));
buildPanel(panelNames[2], Object.assign(layout.c, { ldc: cLdc, ldcHi: cLdcHi, ldcLo: cLdcLo, top: cTop, darkX: cDarkX, dark: cDark, bandX: cDarkX, band: cBand, edge: cEdge, legs: cLegs, cuspX: cCuspX, cuspY: cCuspY, white: cWhite }));
buildPanel(panelNames[3], Object.assign(layout.d, { ldc: dLdc, ldcHi: dLdcHi, ldcLo: dLdcLo, top: dTop, darkX: dDarkX, dark: dDark, bandX: dBandX, band: dBand, edge: dEdge, legs: dLegs, cuspX: dCuspX, cuspY: dCuspY, white: dWhite }));

function addText(str, left, baseline, size, css) {
  var el = document.createElement('div');
  el.className = 'txt';
  el.textContent = str;
  el.style.fontSize = size + 'px';
  el.style.left = left + 'px';
  el.style.top = (baseline - size * (css.sans ? 0.8465 : 0.8375)) + 'px';
  el.style.fontFamily = css.sans ? '"Liberation Sans"' : '"Liberation Serif"';
  if (css.italic) el.style.fontStyle = 'italic';
  if (css.sx) {
    el.style.transform = 'scaleX(' + css.sx + ')';
    el.style.transformOrigin = '0 0';
    el.style.color = '#222';
    el.style.webkitTextStroke = '0.4px #222';
  }
  page.appendChild(el);
}

function groundMark(left, top, color) {
  [[0, 0, 18], [8, 3, 2], [2, 6, 14], [5, 10, 8], [7, 14, 4]].forEach(function(b) {
    var el = document.createElement('div');
    el.className = 'bar';
    el.style.left = (left + b[0]) + 'px';
    el.style.top = (top + b[1]) + 'px';
    el.style.width = b[2] + 'px';
    el.style.height = (b[2] == 2 ? 4 : 2) + 'px';
    el.style.background = color;
    page.appendChild(el);
  });
}

Object.keys(layout).forEach(function(k) {
  var p = layout[k];
  addText('i', p.iLdc[0], p.iLdc[1], 56, { italic: true });
  addText('Ldc', p.iLdc[0] + 12, p.iLdc[2], 40, { italic: true });
  addText('i', p.iCT[0], p.iCT[1], 56, { italic: true });
  addText('CT', p.iCT[0] + 14, p.iCT[2], 40, { italic: true });
  addText('2ms', p.ms[0], p.ms[1], 62, {});
  addText('Main : 125 k', p.main[0], p.main[1], 25, { sans: true, sx: 0.84 });
  addText('2ms/div', p.div[0], p.div[1], 26, { sans: true, sx: 0.84 });
  groundMark(p.L - 19, p.zero[0] + 2, '#ff40f0');
  groundMark(p.L - 19, p.zero[1] + 2, '#20ee30');
});
</script>
</body>
</html>
